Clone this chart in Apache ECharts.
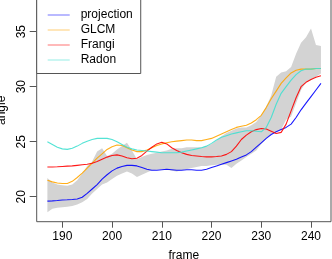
<!DOCTYPE html>
<html>
<head>
<meta charset="utf-8">
<script src="https://cdn.jsdelivr.net/npm/echarts@6/dist/echarts.min.js"></script>
<style>html,body{margin:0;padding:0;background:#fff;}#c{width:332px;height:259px;}</style>
</head>
<body>
<div id="c"></div>
<script>
const frames = [187,188,189,190,191,192,193,194,195,196,197,198,199,200,201,202,203,204,205,206,207,208,209,210,211,212,213,214,215,216,217,218,219,220,221,222,223,224,225,226,227,228,229,230,231,232,233,234,235,236,237,238,239,240,241,242];
const projection = [19.6,19.62,19.65,19.7,19.72,19.75,19.8,19.95,20.3,20.7,21.1,21.6,22.0,22.35,22.6,22.75,22.85,22.85,22.8,22.65,22.5,22.4,22.4,22.45,22.5,22.45,22.4,22.4,22.45,22.45,22.4,22.4,22.5,22.65,22.8,22.95,23.1,23.25,23.4,23.6,23.8,24.1,24.5,24.9,25.3,25.65,25.9,26.1,26.3,26.6,27.2,27.9,28.5,29.1,29.7,30.3];
const glcm = [21.5,21.35,21.25,21.2,21.2,21.4,21.75,22.15,22.6,23.05,23.5,23.9,24.3,24.55,24.7,24.65,24.45,24.25,24.1,24.1,24.25,24.45,24.65,24.8,24.9,25.0,25.05,25.1,25.15,25.15,25.1,25.1,25.2,25.3,25.5,25.7,25.9,26.1,26.3,26.4,26.5,26.7,27.0,27.4,28.1,28.9,29.6,30.3,30.8,31.25,31.5,31.6,31.6,31.6,31.65,31.65];
const frangi = [22.7,22.7,22.72,22.75,22.78,22.8,22.85,22.9,22.95,23.05,23.2,23.4,23.6,23.75,23.8,23.7,23.55,23.45,23.5,23.75,24.15,24.5,24.8,24.95,24.8,24.45,24.2,24.0,23.85,23.75,23.7,23.65,23.62,23.62,23.65,23.7,23.85,24.1,24.6,25.2,25.6,25.9,26.1,26.2,26.15,25.95,25.75,25.85,26.6,27.8,29.0,30.0,30.4,30.65,30.85,31.0];
const radon = [25.0,24.75,24.5,24.35,24.3,24.4,24.6,24.85,25.05,25.2,25.3,25.3,25.3,25.2,25.0,24.75,24.5,24.35,24.25,24.2,24.15,24.1,24.05,24.0,24.0,24.0,24.0,24.05,24.15,24.25,24.35,24.45,24.6,24.85,25.15,25.4,25.55,25.7,25.8,25.9,26.0,26.0,25.95,25.9,26.3,27.2,28.4,29.4,30.0,30.6,31.1,31.45,31.6,31.6,31.65,31.65];
const bandUpper = [21.7,21.3,21.1,21.05,21.0,21.1,21.5,22.1,22.8,23.2,24.1,24.4,23.7,23.9,24.3,24.6,24.9,24.2,23.4,23.6,23.8,23.9,24.0,24.1,24.2,24.35,24.4,24.4,24.5,24.5,24.5,24.5,24.6,24.8,25.1,25.5,25.8,26.0,26.2,26.3,26.3,26.5,26.8,27.4,28.2,29.2,30.9,31.3,31.4,31.8,33.0,34.0,34.5,35.3,33.8,33.7];
const bandLower = [18.6,18.9,19.0,19.05,19.1,19.15,19.3,19.5,19.8,20.3,20.7,21.1,21.3,21.6,21.9,22.1,22.3,22.1,21.8,22.0,22.2,22.4,22.45,22.5,22.45,22.35,22.3,22.4,22.5,22.6,22.7,22.8,22.8,22.85,22.9,22.9,22.9,22.6,23.0,23.3,23.6,23.9,24.2,24.8,25.3,25.7,25.9,26.1,27.0,27.3,28.5,29.7,30.4,30.6,30.9,31.2];
const xTicks = [190,200,210,220,230,240];
const yTicks = [20,25,30,35];
const seriesNames = ['projection','GLCM','Frangi','Radon'];
const seriesColors = ['#0000FF','#FFA500','#FF0000','#40E0D0'];

const pairs = arr => frames.map((f,i)=>[f,arr[i]]);
const font = 'Liberation Sans, Arial, Helvetica, sans-serif';
const chart = echarts.init(document.getElementById('c'), null, {renderer:'canvas'});
const lineSeries = [projection, glcm, frangi, radon].map((arr,i)=>({
  name: seriesNames[i], type:'line', data: pairs(arr), showSymbol:false, symbol:'none',
  lineStyle:{color:seriesColors[i], width:1.1, opacity:0.9}, itemStyle:{color:seriesColors[i]},
  animation:false, z:3
}));
chart.setOption({
  animation:false,
  grid:{left:36.7, right:1, top:-1, bottom:37.3, outerBoundsMode:'none', containLabel:false, show:true, borderColor:'#555', borderWidth:1, backgroundColor:'transparent'},
  xAxis:{type:'value', min:184.85, max:244.02,
    name:'frame', nameLocation:'middle', nameGap:28,
    nameTextStyle:{fontFamily:font, fontSize:12, color:'#000'},
    axisLine:{show:false}, splitLine:{show:false},
    axisTick:{show:true, length:6, lineStyle:{color:'#555'}, customValues:xTicks},
    axisLabel:{fontFamily:font, fontSize:12, color:'#000', margin:9, customValues:xTicks}
  },
  yAxis:{type:'value', min:17.73, max:37.97,
    name:'angle', nameLocation:'middle', nameGap:22, nameRotate:90,
    nameTextStyle:{fontFamily:font, fontSize:12, color:'#000', verticalAlign:'bottom'},
    axisLine:{show:false}, splitLine:{show:false},
    axisTick:{show:true, length:7, lineStyle:{color:'#555'}, customValues:yTicks},
    axisLabel:{fontFamily:font, fontSize:12, color:'#000', margin:9, rotate:90, customValues:yTicks}
  },
  legend:{orient:'vertical', left:36.7, top:-6, padding:[13.5,8,6,11], itemGap:0,
    backgroundColor:'#fff', borderColor:'#555', borderWidth:1, borderRadius:0,
    icon:'rect', itemWidth:22, itemHeight:1,
    textStyle:{fontFamily:font, fontSize:12, color:'#000', lineHeight:15, padding:[0,0,0,6]},
    data: seriesNames.map((n,i)=>({name:n, itemStyle:{color:seriesColors[i], opacity:0.55}}))
  },
  series:[
    {type:'custom', name:'band', data:[[frames[0], bandUpper[0]]], silent:true, z:1, clip:true,
      renderItem:function(params, api){
        const pts = [];
        for(let i=0;i<frames.length;i++) pts.push(api.coord([frames[i], bandUpper[i]]));
        for(let i=frames.length-1;i>=0;i--) pts.push(api.coord([frames[i], bandLower[i]]));
        return {type:'polygon', shape:{points:pts}, style:{fill:'#D3D3D3', stroke:null}};
      }
    }
  ].concat(lineSeries)
});
</script>
</body>
</html>
